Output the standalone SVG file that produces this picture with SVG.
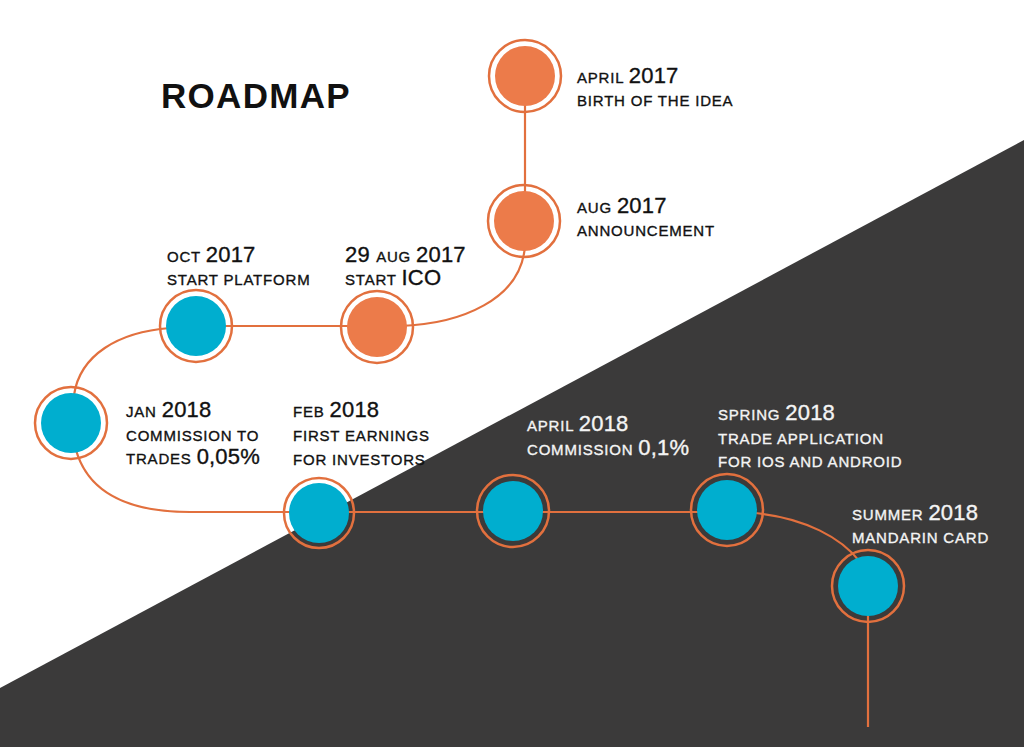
<svg xmlns="http://www.w3.org/2000/svg" width="1024" height="747" viewBox="0 0 1024 747">
<style>
text{font-family:"Liberation Sans",Arial,Helvetica,sans-serif;fill:#111;stroke:#111;stroke-width:0.35px;}
.w{fill:#f4f4f4;stroke:#f4f4f4;}
.s{font-size:15px;letter-spacing:0.8px;}
.b{font-size:22px;letter-spacing:0.2px;}
.ring{fill:none;stroke:#e2703e;stroke-width:2.5;}
.or{fill:#ec7b4a;}
.bl{fill:#00aecf;}
.con{fill:none;stroke:#e2703e;stroke-width:2.2;}
</style>
<rect width="1024" height="747" fill="#ffffff"/>
<polygon points="1024,140 1024,747 0,747 0,688" fill="#3b3a3a"/>
<text x="161" y="108" font-size="35" font-weight="bold" letter-spacing="1.3" style="fill:#111;stroke:none">ROADMAP</text>
<g id="connectors">
<path class="con" d="M525,100 L525,200"/>
<path class="con" d="M400,326 C460,324 522,300 525,245"/>
<path class="con" d="M196,326 L376,326"/>
<path class="con" d="M170,328 C118,332 80,355 74,395"/>
<path class="con" d="M76,450 C88,492 128,512 190,512 L727,512"/>
<path class="con" d="M755,513 C805,518 842,538 860,562"/>
<path class="con" d="M868,600 L868,727"/>
</g>
<g id="n1"><circle class="or" cx="525" cy="76" r="30"/><circle class="ring" cx="525" cy="76" r="36"/>
<text x="577" y="83"><tspan class="s">APRIL </tspan><tspan class="b">2017</tspan></text>
<text x="577" y="106" class="s">BIRTH OF THE IDEA</text></g>
<g id="n2"><circle class="or" cx="524" cy="221" r="30"/><circle class="ring" cx="524" cy="221" r="36"/>
<text x="577" y="213"><tspan class="s">AUG </tspan><tspan class="b">2017</tspan></text>
<text x="577" y="236" class="s">ANNOUNCEMENT</text></g>
<g id="n3"><circle class="or" cx="377" cy="327" r="30"/><circle class="ring" cx="377" cy="327" r="36"/>
<text x="345" y="262"><tspan class="b">29 </tspan><tspan class="s">AUG </tspan><tspan class="b">2017</tspan></text>
<text x="345" y="285"><tspan class="s">START </tspan><tspan class="b">ICO</tspan></text></g>
<g id="n4"><circle class="bl" cx="196" cy="326" r="30"/><circle class="ring" cx="196" cy="326" r="36"/>
<text x="167" y="262"><tspan class="s">OCT </tspan><tspan class="b">2017</tspan></text>
<text x="167" y="285" class="s">START PLATFORM</text></g>
<g id="n5"><circle class="bl" cx="71" cy="423" r="30"/><circle class="ring" cx="71" cy="423" r="36"/>
<text x="126" y="417"><tspan class="s">JAN </tspan><tspan class="b">2018</tspan></text>
<text x="126" y="441" class="s">COMMISSION TO</text>
<text x="126" y="464"><tspan class="s">TRADES </tspan><tspan class="b">0,05%</tspan></text></g>
<g id="n6"><circle class="bl" cx="319" cy="513" r="30"/><circle class="ring" cx="319" cy="513" r="35"/>
<text x="293" y="417"><tspan class="s">FEB </tspan><tspan class="b">2018</tspan></text>
<text x="293" y="441" class="s">FIRST EARNINGS</text>
<text x="293" y="465" class="s">FOR INVESTORS</text></g>
<g id="n7"><circle class="bl" cx="513" cy="511" r="30"/><circle class="ring" cx="513" cy="511" r="36"/>
<text x="527" y="431" class="w"><tspan class="s w">APRIL </tspan><tspan class="b w">2018</tspan></text>
<text x="527" y="455" class="w"><tspan class="s w">COMMISSION </tspan><tspan class="b w">0,1%</tspan></text></g>
<g id="n8"><circle class="bl" cx="727" cy="510" r="30"/><circle class="ring" cx="727" cy="510" r="36"/>
<text x="718" y="420" class="w"><tspan class="s w">SPRING </tspan><tspan class="b w">2018</tspan></text>
<text x="718" y="444" class="s w">TRADE APPLICATION</text>
<text x="718" y="467" class="s w">FOR IOS AND ANDROID</text></g>
<g id="n9"><circle class="bl" cx="868" cy="586" r="30"/><circle class="ring" cx="868" cy="586" r="36"/>
<text x="852" y="520" class="w"><tspan class="s w">SUMMER </tspan><tspan class="b w">2018</tspan></text>
<text x="852" y="543" class="s w">MANDARIN CARD</text></g>
</svg>
